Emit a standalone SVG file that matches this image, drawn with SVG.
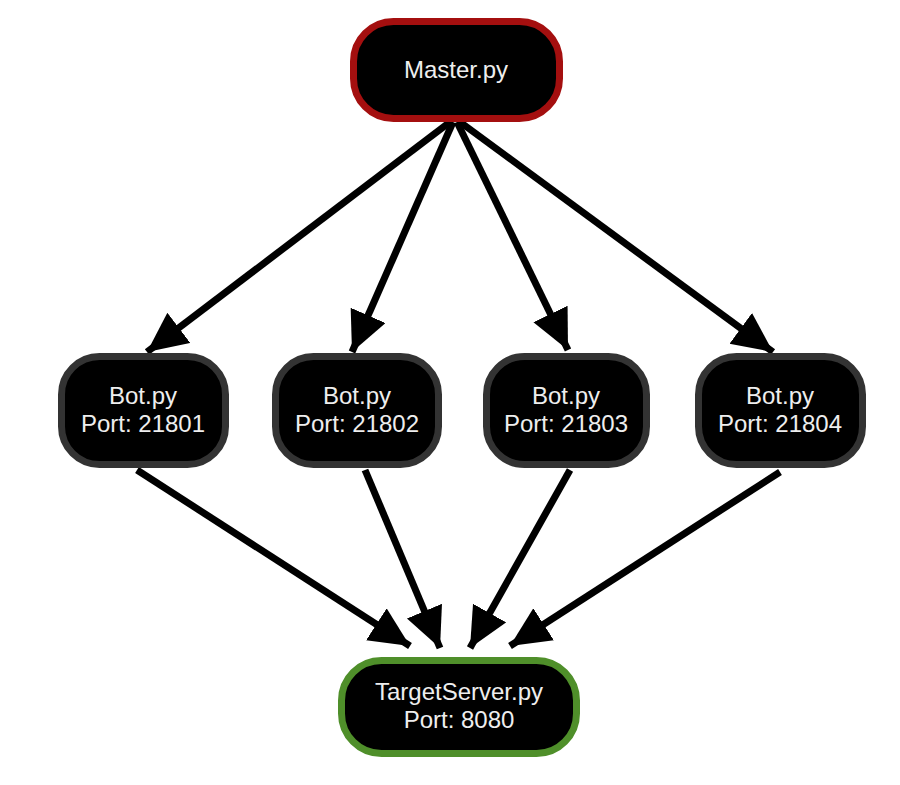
<svg xmlns="http://www.w3.org/2000/svg" width="900" height="785" viewBox="0 0 900 785">
<defs>
<marker id="arr" markerUnits="userSpaceOnUse" markerWidth="42" markerHeight="40" refX="40" refY="19" orient="auto">
<path d="M0,0 L40,19 L0,38 z" fill="#000"/>
</marker>
<style>
.n{fill:#000;stroke-width:7}
.bot{stroke:#333}
.t{fill:#eee;font-family:"Liberation Sans",Arial,sans-serif;font-size:24px;text-anchor:middle}
.e{stroke:#000;stroke-width:7;fill:none;marker-end:url(#arr)}
</style>
</defs>
<rect width="900" height="785" fill="#fff"/>
<g id="edges">
<line class="e" x1="450" y1="122" x2="147" y2="352"/>
<line class="e" x1="453" y1="122" x2="352" y2="352"/>
<line class="e" x1="457" y1="122" x2="568" y2="350"/>
<line class="e" x1="460" y1="122" x2="773" y2="352"/>
<line class="e" x1="137" y1="470" x2="410" y2="646"/>
<line class="e" x1="365" y1="470" x2="440" y2="648"/>
<line class="e" x1="570" y1="470" x2="470" y2="648"/>
<line class="e" x1="780" y1="472" x2="510" y2="646"/>
</g>
<g id="master">
<rect class="n" x="353.5" y="21.5" width="206" height="97" rx="40" stroke="#a40f0f"/>
<text class="t" x="456" y="78">Master.py</text>
</g>
<g id="bot1">
<rect class="n bot" x="61.5" y="356.5" width="164" height="108" rx="38"/>
<text class="t" x="143" y="404">Bot.py</text>
<text class="t" x="143" y="432">Port: 21801</text>
</g>
<g id="bot2">
<rect class="n bot" x="275.5" y="356.5" width="163" height="108" rx="38"/>
<text class="t" x="357" y="404">Bot.py</text>
<text class="t" x="357" y="432">Port: 21802</text>
</g>
<g id="bot3">
<rect class="n bot" x="486.5" y="356.5" width="160" height="108" rx="38"/>
<text class="t" x="566" y="404">Bot.py</text>
<text class="t" x="566" y="432">Port: 21803</text>
</g>
<g id="bot4">
<rect class="n bot" x="698.5" y="356.5" width="164" height="108" rx="38"/>
<text class="t" x="780" y="404">Bot.py</text>
<text class="t" x="780" y="432">Port: 21804</text>
</g>
<g id="target">
<rect class="n" x="341.5" y="660.5" width="235" height="93" rx="40" stroke="#4f8f2a"/>
<text class="t" x="459" y="700">TargetServer.py</text>
<text class="t" x="459" y="728">Port: 8080</text>
</g>
</svg>
